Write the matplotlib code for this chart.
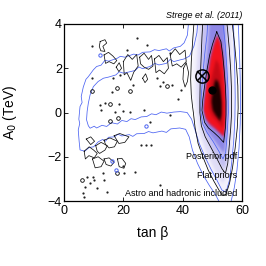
import numpy as np
import matplotlib
matplotlib.use("Agg")
import matplotlib.pyplot as plt
from matplotlib.path import Path
from matplotlib.colors import LinearSegmentedColormap

plt.rcParams['font.family'] = ['Liberation Sans', 'DejaVu Sans']

# ---------------- data (tan beta, A0 [TeV]) ----------------
# nested posterior-pdf shading regions (outer -> inner)
shade_1 = [(44.3,4.4),(43.6,3.2),(43.1,2.0),(43.2,1.0),(43.7,0.0),(44.6,-1.0),(46.2,-1.8),(48.3,-2.5),(50.4,-3.0),(52.2,-3.45),(53.6,-3.7),(54.9,-3.45),(56.0,-2.8),(56.8,-2.0),(57.3,-1.0),(57.6,0.0),(57.6,1.0),(57.4,2.0),(57.1,3.0),(56.8,4.4)]
shade_2 = [(45.6,4.4),(44.9,3.0),(44.5,2.0),(44.4,1.0),(44.8,0.0),(45.8,-1.0),(47.5,-1.7),(49.5,-2.3),(51.5,-2.85),(53.2,-3.2),(54.3,-3.0),(55.3,-2.4),(55.9,-1.5),(56.3,-0.5),(56.4,0.5),(56.3,1.5),(56.1,2.5),(55.8,3.5),(55.6,4.4)]
shade_3 = [(47.0,4.4),(46.3,3.0),(45.9,2.0),(45.7,1.0),(45.9,0.0),(46.9,-0.8),(48.6,-1.4),(50.6,-1.9),(52.5,-2.35),(53.8,-2.55),(54.6,-2.1),(55.0,-1.2),(55.3,0.0),(55.3,1.0),(55.1,2.0),(54.8,3.0),(54.5,4.4)]
shade_4 = [(49.0,4.4),(48.4,3.2),(47.7,2.2),(47.0,1.2),(46.4,0.2),(47.0,-0.5),(48.6,-0.95),(50.6,-1.3),(52.5,-1.65),(53.7,-1.85),(54.4,-1.3),(54.7,-0.3),(54.8,0.5),(54.6,1.5),(54.3,2.5),(54.0,3.5),(53.7,4.4)]
shade_5 = [(51.4,3.5),(50.3,3.05),(49.3,2.55),(48.4,1.8),(47.7,1.2),(47.1,0.6),(46.8,0.1),(47.6,-0.25),(48.8,-0.5),(50.6,-0.7),(52.2,-0.9),(53.7,-1.1),(54.1,-0.6),(54.3,-0.1),(54.3,0.5),(54.1,1.2),(53.7,1.9),(53.2,2.6),(52.5,3.15)]
shade_6 = [(51.0,2.4),(49.9,1.8),(49.0,1.2),(48.5,0.7),(48.6,0.2),(49.6,-0.15),(51.0,-0.35),(52.6,-0.6),(53.3,-0.7),(53.5,-0.3),(53.5,0.4),(53.2,1.1),(52.7,1.7),(52.0,2.2)]
shade_7 = [(50.8,1.5),(49.9,1.0),(49.5,0.5),(49.9,0.1),(51.0,-0.15),(52.4,-0.4),(52.9,-0.1),(52.9,0.5),(52.5,1.0),(51.8,1.4)]
shade_regions = [shade_1, shade_2, shade_3, shade_4, shade_5, shade_6, shade_7]

# blue contours
blue_outer = [(42.2,4.4),(41.6,3.5),(40.5,3.15),(39.2,2.99),(37.0,2.92),(35.5,2.78),(34.5,2.88),(32.0,2.8),(30.5,2.84),(29.0,2.74),(26.5,2.72),(25.0,2.6),(23.5,2.64),(20.5,2.5),(19.0,2.54),(17.8,2.44),(15.0,2.32),(13.8,2.36),(12.5,2.14),(11.0,2.08),(9.9,1.93),(8.2,1.62),(7.4,1.5),(6.5,1.15),(5.8,0.72),(6.1,0.45),(5.4,0.27),(5.0,-0.3),(5.3,-0.5),(4.8,-0.79),(5.1,-1.3),(5.4,-1.69),(7.0,-1.75),(8.5,-1.58),(10.0,-1.55),(11.5,-1.33),(13.0,-1.22),(14.0,-1.3),(15.0,-1.12),(17.0,-1.1),(18.2,-0.98),(19.5,-1.06),(22.0,-1.0),(23.2,-1.08),(24.5,-0.96),(27.0,-0.95),(28.5,-0.86),(30.0,-0.92),(33.0,-0.84),(34.5,-0.9),(36.0,-0.74),(39.0,-0.7),(41.0,-0.76),(42.2,-1.1),(43.3,-1.7),(45.0,-2.3),(47.0,-2.85),(49.0,-3.3),(51.0,-3.7),(52.5,-4.08),(56.2,-4.08),(57.4,-3.4),(58.3,-2.6),(59.0,-1.6),(59.4,-0.5),(59.5,0.5),(59.4,1.5),(59.2,2.5),(58.9,3.5),(58.6,4.4)]
blue_inner = [(45.3,4.4),(44.8,3.6),(43.8,3.0),(42.3,2.55),(40.5,2.42),(39.2,2.38),(37.0,2.3),(35.8,2.4),(34.5,2.22),(32.0,2.15),(30.6,2.22),(29.0,2.08),(26.5,1.98),(25.2,2.06),(24.0,1.9),(21.5,1.82),(20.0,1.78),(18.6,1.84),(17.5,1.7),(15.0,1.6),(13.3,1.55),(11.5,1.4),(9.9,1.17),(8.8,0.8),(8.2,0.42),(7.8,0.05),(7.6,-0.33),(8.2,-0.6),(8.8,-0.71),(10.2,-0.62),(11.0,-0.7),(12.8,-0.58),(14.4,-0.63),(16.0,-0.46),(18.0,-0.52),(19.5,-0.36),(21.2,-0.41),(22.6,-0.28),(24.0,-0.32),(26.0,-0.2),(27.9,-0.18),(29.5,-0.06),(31.0,-0.1),(32.8,0.02),(34.7,-0.03),(37.0,0.02),(39.2,0.04),(41.5,0.0),(43.0,-0.3),(44.2,-0.8),(45.6,-1.4),(47.5,-2.0),(49.5,-2.55),(51.5,-3.05),(53.2,-3.5),(54.6,-3.6),(55.7,-3.1),(56.5,-2.3),(57.2,-1.3),(57.6,-0.3),(57.7,0.7),(57.6,1.7),(57.4,2.7),(57.2,3.7),(57.0,4.4)]
blue_mid = [(48.6,4.4),(48.2,3.5),(47.4,2.6),(46.8,1.7),(46.3,0.8),(46.1,0.1),(46.7,-0.5),(48.2,-0.9),(50.2,-1.3),(52.2,-1.75),(53.6,-2.1),(54.5,-1.8),(55.0,-1.0),(55.4,0.0),(55.3,1.0),(54.9,2.0),(54.4,3.0),(53.8,3.8),(53.1,4.4)]
blue_lines = [blue_outer, blue_inner, blue_mid]

# black contours
black_outer = [(44.0,4.4),(43.4,3.3),(42.9,2.3),(42.7,1.5),(42.9,0.8),(43.3,0.3),(43.6,0.0),(44.2,-0.7),(45.2,-1.4),(46.8,-2.0),(48.6,-2.6),(50.5,-3.1),(52.2,-3.5),(53.4,-3.75),(54.6,-3.7),(55.8,-3.2),(56.8,-2.5),(57.7,-1.6),(58.4,-0.7),(58.7,0.2),(58.6,1.2),(58.1,2.2),(57.5,3.1),(56.9,3.8),(56.5,4.4)]
black_mid = [(46.9,4.4),(46.5,3.4),(46.2,2.4),(45.9,1.4),(45.8,0.5),(45.8,0.0),(46.3,-0.6),(47.6,-1.1),(49.6,-1.6),(51.6,-2.1),(53.3,-2.55),(54.4,-2.75),(55.2,-2.3),(55.7,-1.5),(56.2,-0.7),(56.5,0.0),(56.5,0.9),(56.2,1.9),(55.7,2.9),(55.1,3.8),(54.6,4.4)]
black_red = [(51.5,3.65),(50.1,3.1),(49.1,2.6),(48.1,1.85),(47.4,1.2),(46.8,0.6),(46.5,0.1),(47.4,-0.45),(48.7,-0.7),(50.5,-0.9),(52.1,-1.1),(53.8,-1.35),(54.4,-0.7),(54.6,-0.1),(54.6,0.5),(54.4,1.2),(54.0,1.9),(53.5,2.6),(52.9,3.2),(51.5,3.65)]
black_lines = [black_outer, black_mid, black_red]

# small black contour islands in the band
black_islands = [
    [(12.2,3.21),(13.8,3.29),(14.4,3.14),(13.1,2.99),(13.8,2.76),(12.4,2.79),(11.9,2.99),(12.2,3.21)],
    [(13.5,2.6),(15.0,2.72),(16.5,2.55),(17.8,2.35),(16.8,2.2),(15.2,2.3),(14.0,2.22),(13.5,2.6)],
    [(20.0,2.3),(21.5,2.62),(23.0,2.4),(24.5,2.62),(25.0,2.1),(23.5,1.82),(22.5,1.45),(21.2,1.8),(20.3,1.7),(20.0,2.3)],
    [(25.5,2.5),(27.0,2.68),(28.5,2.4),(29.5,2.58),(30.0,2.1),(28.5,1.95),(27.0,2.05),(25.8,2.2),(25.5,2.5)],
    [(30.5,2.42),(32.0,2.58),(33.5,2.3),(34.8,2.48),(35.2,2.0),(33.8,1.75),(32.2,1.92),(31.0,1.8),(30.5,2.42)],
    [(35.8,2.6),(37.5,2.88),(39.0,2.62),(40.8,2.82),(41.2,2.3),(39.5,2.05),(38.0,2.2),(36.5,2.1),(35.8,2.6)],
    [(17.6,2.05),(18.6,2.25),(19.4,2.0),(18.5,1.85),(17.6,2.05)],
    [(40.3,2.0),(41.2,2.25),(42.0,1.8),(41.6,1.4),(40.8,1.15),(40.1,1.5),(40.3,2.0)],
    [(26.5,1.55),(27.5,1.75),(28.2,1.5),(27.3,1.35),(26.5,1.55)],
    [(6.8,-1.75),(8.5,-1.55),(10.0,-1.7),(11.2,-1.85),(10.2,-2.05),(8.4,-1.95),(7.2,-2.1),(6.8,-1.75)],
    [(10.7,-1.5),(12.5,-1.35),(14.6,-1.5),(13.8,-1.7),(12.0,-1.85),(11.2,-1.75),(10.7,-1.5)],
    [(13.5,-1.25),(15.5,-1.15),(18.0,-1.3),(17.0,-1.55),(15.2,-1.6),(14.0,-1.45),(13.5,-1.25)],
    [(16.9,-1.05),(18.8,-0.95),(21.9,-1.1),(20.5,-1.35),(18.5,-1.4),(16.9,-1.05)],
    [(9.6,-2.1),(11.5,-2.0),(13.5,-2.2),(12.5,-2.45),(10.5,-2.5),(9.6,-2.1)],
    [(13.5,-2.1),(15.2,-2.05),(16.9,-2.25),(15.8,-2.42),(14.2,-2.35),(13.5,-2.1)],
    [(18.0,-2.1),(19.5,-2.07),(20.8,-2.3),(20.2,-2.52),(18.6,-2.45),(18.0,-2.1)],
    [(7.5,-1.2),(9.0,-1.1),(10.3,-1.3),(9.0,-1.45),(7.5,-1.2)],
]

# scattered single-sample dots
dot_x = [16.1,32.4,13.8,18.7,12.4,17.2,20.0,22.1,29.0,35.8,27.0,27.9,9.3,12.2,7.1,6.5,8.8,9.9,11.0,14.4,24.0,20.0,13.3,7.9,10.1,13.5,20.3,6.8,25.9,27.6,29.3,9.3,24.5,21.2,35.8,33.5,36.4,31.3,18.9,16.6,23.4,32.4,38.5,39.5]
dot_y = [0.92,1.18,0.42,0.38,0.12,0.04,0.07,0.02,-0.41,-0.11,0.12,3.06,1.55,0.35,-3.35,-3.65,-3.2,-2.9,-3.42,-3.58,-2.67,-2.44,-2.75,-2.9,-3.05,-3.05,-2.75,-3.8,-1.46,-1.46,-1.46,2.99,3.36,2.84,2.69,1.40,1.25,1.55,1.70,1.55,1.25,-3.28,0.6,1.0]
ring_x = [17.8,34.7,15.5,18.3,15.5,9.3,6.0,17.8,22.1]
ring_y = [1.10,1.18,0.38,-0.26,-0.38,0.95,-3.05,-2.75,0.99]
blue_dot_x = [17.4,16.2,12.0,27.5]
blue_dot_y = [-2.6,-2.2,2.6,-0.6]

best_fit = (46.6, 1.67)      # crossed circle
post_mean = (50.0, 1.0)      # filled dot

x_ticks = [0, 20, 40, 60]
y_ticks = [-4, -2, 0, 2, 4]
y_tick_labels = ['\u22124', '\u22122', '0', '2', '4']

# ---------------- figure ----------------
fig = plt.figure(figsize=(2.66, 2.66), dpi=100)
ax = fig.add_axes([64/266, 1-201/266, 178/266, 177/266])

# shading
gx = np.linspace(40, 60, 401)
gy = np.linspace(-4.4, 4.4, 441)
GX, GY = np.meshgrid(gx, gy)
pts = np.column_stack([GX.ravel(), GY.ravel()])
lev = np.zeros(GX.shape)
for poly in shade_regions:
    lev += Path(poly).contains_points(pts).reshape(GX.shape)

def smooth(a, n, axis):
    k = np.ones(n) / n
    return np.apply_along_axis(lambda v: np.convolve(v, k, mode='same'), axis, a)

for _ in range(3):
    lev = smooth(lev, 15, 1)
    lev = smooth(lev, 7, 0)

cmap = LinearSegmentedColormap.from_list('post', [
    (0/7, '#ffffff'), (1/7, '#f3f1fc'), (2/7, '#e0ddf7'), (3/7, '#c3bff1'),
    (4/7, '#8e89e8'), (4.6/7, '#d02a5a'), (5/7, '#f2121e'), (6/7, '#c80a16'), (7/7, '#1c0000')])
ax.imshow(lev, extent=[40, 60, -4.4, 4.4], origin='lower', aspect='auto',
          cmap=cmap, vmin=0, vmax=7, interpolation='bilinear', zorder=0)

lw = 0.55
blue = '#4a62f2'
for ln in blue_lines:
    a = np.array(ln)
    ax.plot(a[:, 0], a[:, 1], color=blue, lw=lw, zorder=2)
for ln in black_lines:
    a = np.array(ln)
    ax.plot(a[:, 0], a[:, 1], color='black', lw=lw, zorder=3)
for ln in black_islands:
    a = np.array(ln)
    ax.plot(a[:, 0], a[:, 1], color='#111111', lw=0.55, zorder=3)

ax.plot(dot_x, dot_y, 'o', ms=1.6, color='#222222', mec='none', zorder=3)
ax.plot(ring_x, ring_y, 'o', ms=2.6, mfc='none', mec='black', mew=0.6, zorder=3)
ax.plot(blue_dot_x, blue_dot_y, 'o', ms=2.4, mfc='none', mec=blue, mew=0.7, zorder=3)

ax.plot(*best_fit, 'o', ms=9.5, mfc='none', mec='black', mew=1.1, zorder=5)
ax.plot(*best_fit, 'x', ms=6.6, mec='black', mew=1.1, zorder=5)
ax.plot(*post_mean, 'o', ms=5, color='black', zorder=5)

ax.set_xlim(0, 60)
ax.set_ylim(-4, 4)
ax.set_xticks(x_ticks)
ax.set_yticks(y_ticks)
ax.set_yticklabels(y_tick_labels)
ax.tick_params(direction='in', length=3, width=0.6, top=True, right=True,
               labelsize=9)
ax.tick_params(axis='x', pad=3)
ax.tick_params(axis='y', pad=1.5)
for s in ax.spines.values():
    s.set_linewidth(0.9)

ax.set_xlabel('tan \u03b2', fontsize=10)
ax.set_ylabel('A$_0$ (TeV)', fontsize=10)
ax.xaxis.set_label_coords(0.5, -0.14)
ax.yaxis.set_label_coords(-0.255, 0.5)

ax.text(58.3, -2.0, 'Posterior pdf', ha='right', va='center', fontsize=6.5, zorder=6)
ax.text(58.3, -2.83, 'Flat priors', ha='right', va='center', fontsize=6.5, zorder=6)
ax.text(58.3, -3.65, 'Astro and hadronic included', ha='right', va='center', fontsize=6.5, zorder=6)
fig.text(242/266, 1-15/266, 'Strege et al. (2011)', ha='right', va='center',
         fontsize=6.5, style='italic')

fig.savefig('out.png', dpi=100)
